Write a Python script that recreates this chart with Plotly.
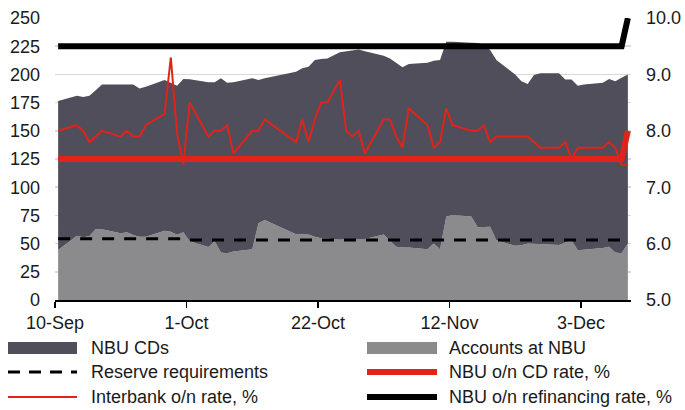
import pandas as pd
import plotly.graph_objects as go

# ---------------- data ----------------
dates = [
    "2010-09-10", "2010-09-13", "2010-09-14", "2010-09-15", "2010-09-16", "2010-09-17",
    "2010-09-20", "2010-09-21", "2010-09-22", "2010-09-23", "2010-09-24",
    "2010-09-27", "2010-09-28", "2010-09-29", "2010-09-30", "2010-10-01",
    "2010-10-04", "2010-10-05", "2010-10-06", "2010-10-07", "2010-10-08",
    "2010-10-11", "2010-10-12", "2010-10-13", "2010-10-18", "2010-10-19",
    "2010-10-20", "2010-10-21", "2010-10-22", "2010-10-23", "2010-10-25",
    "2010-10-26", "2010-10-27", "2010-10-28", "2010-10-29", "2010-11-01",
    "2010-11-02", "2010-11-03", "2010-11-04", "2010-11-05", "2010-11-08",
    "2010-11-09", "2010-11-10", "2010-11-11", "2010-11-12", "2010-11-15",
    "2010-11-16", "2010-11-17", "2010-11-18", "2010-11-19", "2010-11-22",
    "2010-11-23", "2010-11-24", "2010-11-25", "2010-11-26", "2010-11-29",
    "2010-11-30", "2010-12-01", "2010-12-02", "2010-12-03", "2010-12-06",
    "2010-12-07", "2010-12-08", "2010-12-09", "2010-12-10",
]

# accounts at NBU, UAH bn (lower, light grey area)
accounts_at_nbu = [
    44.3, 57.0, 55.6, 56.7, 62.7, 62.7,
    59.1, 60.0, 57.6, 56.1, 56.0,
    61.5, 60.6, 57.9, 60.0, 52.0,
    47.0, 52.0, 42.0, 41.4, 43.0,
    45.0, 68.0, 71.0, 58.2, 58.2,
    58.0, 56.0, 54.7, 54.5, 53.5,
    54.0, 52.5, 54.0, 54.0, 58.0,
    53.0, 47.3, 46.5, 46.5, 45.0,
    50.0, 45.0, 74.0, 75.4, 74.0,
    64.5, 65.0, 65.0, 53.0, 48.0,
    48.5, 50.0, 49.8, 49.6, 48.8,
    51.0, 53.0, 44.0, 44.6, 46.0,
    47.3, 42.0, 41.4, 50.0,
]

# top of the stacked dark area: NBU CDs + accounts at NBU, UAH bn
cds_stack_top = [
    176.5, 181.0, 180.0, 181.0, 186.0, 191.0,
    191.0, 191.0, 191.0, 187.5, 189.0,
    195.0, 192.5, 190.0, 196.0, 195.6,
    193.0, 193.0, 196.5, 192.6, 193.0,
    196.5, 195.0, 196.5, 202.4, 205.4,
    206.8, 212.8, 213.6, 214.2, 219.6,
    220.4, 221.2, 222.0, 220.5, 216.6,
    214.2, 210.4, 206.3, 209.2, 210.4,
    212.2, 212.8, 229.0, 229.0, 228.1,
    227.8, 226.0, 221.6, 212.8, 200.0,
    194.0, 191.5, 199.5, 201.0, 201.0,
    195.5, 195.5, 190.0, 191.0, 192.6,
    196.0, 194.0, 197.0, 200.0,
]

# interbank overnight rate, %
interbank_rate = [
    8.0, 8.1, 8.0, 7.8, 7.9, 8.0,
    7.9, 8.0, 7.9, 7.9, 8.1,
    8.3, 9.3, 7.95, 7.4, 8.5,
    7.9, 8.0, 8.0, 8.1, 7.6,
    8.0, 8.0, 8.2, 7.8, 8.2,
    7.8, 8.2, 8.5, 8.5, 8.9,
    8.0, 7.9, 8.0, 7.6, 8.2,
    8.2, 7.9, 7.7, 8.4, 8.1,
    7.7, 7.8, 8.4, 8.1, 8.0,
    8.0, 8.1, 7.8, 7.9, 7.9,
    7.9, 7.9, 7.8, 7.7, 7.7,
    7.8, 7.5, 7.7, 7.7, 7.7,
    7.8, 7.7, 7.4, 7.4,
]

rate_dates = ["2010-09-10", "2010-12-09", "2010-12-10"]
cd_rate = [7.5, 7.5, 8.0]
refinancing_rate = [9.5, 9.5, 10.0]

reserve_dates = ["2010-09-10", "2010-09-30", "2010-10-01", "2010-12-10"]
reserve_requirements = [54.4, 54.4, 53.2, 53.2]

tick_dates = ["2010-09-10", "2010-10-01", "2010-10-22", "2010-11-12", "2010-12-03"]
tick_labels = ["10-Sep", "1-Oct", "22-Oct", "12-Nov", "3-Dec"]
left_ticks = list(range(0, 251, 25))
right_ticks = [5, 6, 7, 8, 9, 10]

legend_labels = [
    "NBU CDs", "Accounts at NBU", "Reserve requirements",
    "NBU o/n CD rate, %", "Interbank o/n rate, %", "NBU o/n refinancing rate, %",
]

# ---------------- styling ----------------
DARK = "#4f4e5a"
GREY = "#8b8b8d"
RED = "#e2231a"
BLACK = "#000000"
TEXT = "#1a1a1a"
FONT = "Liberation Sans, Arial, sans-serif"
FS = 18

W, H = 685, 410
L, R, T, B = 55, 54, 18, 110
PW, PH = W - L - R, H - T - B


def mid(ds):
    # observations are drawn at the middle of their day
    return pd.to_datetime(ds) + pd.Timedelta(hours=12)


fig = go.Figure()

fig.add_trace(go.Scatter(
    x=mid(dates), y=accounts_at_nbu, name=legend_labels[1], mode="lines",
    line=dict(width=0, color=GREY), fill="tozeroy", fillcolor=GREY,
    showlegend=False, hoverinfo="skip"))
fig.add_trace(go.Scatter(
    x=mid(dates), y=cds_stack_top, name=legend_labels[0], mode="lines",
    line=dict(width=0, color=DARK), fill="tonexty", fillcolor=DARK,
    showlegend=False, hoverinfo="skip"))
fig.add_trace(go.Scatter(
    x=mid(reserve_dates), y=reserve_requirements, name=legend_labels[2], mode="lines",
    line=dict(width=3, color=BLACK, dash="12px,10px"), showlegend=False))
fig.add_trace(go.Scatter(
    x=mid(rate_dates), y=cd_rate, name=legend_labels[3], mode="lines", yaxis="y2",
    line=dict(width=6, color=RED), showlegend=False))
fig.add_trace(go.Scatter(
    x=mid(dates), y=interbank_rate, name=legend_labels[4], mode="lines", yaxis="y2",
    line=dict(width=2, color=RED), showlegend=False))
fig.add_trace(go.Scatter(
    x=mid(rate_dates), y=refinancing_rate, name=legend_labels[5], mode="lines", yaxis="y2",
    line=dict(width=6, color=BLACK), showlegend=False))

# ---------------- custom legend (pixel layout -> paper coords) ----------------
def px(x):
    return (x - L) / PW


def py(y):
    return (H - B - y) / PH


shapes = []
annotations = []
col_sym = [(8, 77), (367, 437)]
col_txt = [89, 447]
rows = [348, 372, 397]
items = [
    ("rect", DARK, None), ("rect", GREY, None),
    ("line", BLACK, dict(width=3, dash="12px,9px")), ("line", RED, dict(width=6)),
    ("line", RED, dict(width=2)), ("line", BLACK, dict(width=6)),
]
for i, (kind, color, st) in enumerate(items):
    c, r = i % 2, i // 2
    x0, x1 = col_sym[c]
    yc = rows[r]
    if kind == "rect":
        shapes.append(dict(type="rect", xref="paper", yref="paper",
                           x0=px(x0), x1=px(x1), y0=py(yc + 6), y1=py(yc - 6),
                           fillcolor=color, line=dict(width=0)))
    else:
        shapes.append(dict(type="line", xref="paper", yref="paper",
                           x0=px(x0), x1=px(x1), y0=py(yc), y1=py(yc),
                           line=dict(color=color, **st)))
    annotations.append(dict(xref="paper", yref="paper", x=px(col_txt[c]), y=py(yc),
                            xanchor="left", yanchor="middle", showarrow=False,
                            text=legend_labels[i],
                            font=dict(family=FONT, size=FS, color=TEXT)))

fig.update_layout(
    width=W, height=H, autosize=False,
    margin=dict(l=L, r=R, t=T, b=B, pad=0, autoexpand=False),
    paper_bgcolor="white", plot_bgcolor="white",
    font=dict(family=FONT, size=FS, color=TEXT),
    showlegend=False,
    shapes=shapes, annotations=annotations,
    xaxis=dict(
        type="date", range=["2010-09-10", "2010-12-11"],
        tickvals=pd.to_datetime(tick_dates), ticktext=tick_labels,
        ticks="outside", ticklen=6, tickwidth=1.5, tickcolor=BLACK,
        showline=True, linecolor=BLACK, linewidth=1.5,
        showgrid=False, zeroline=False, fixedrange=True, automargin=False,
        tickfont=dict(family=FONT, size=FS, color=TEXT),
    ),
    yaxis=dict(
        range=[0, 250], tickvals=left_ticks, automargin=False,
        showgrid=True, gridcolor="#d9d9d9", gridwidth=1.5,
        showline=False, zeroline=False, ticks="", ticklabelstandoff=14,
        tickfont=dict(family=FONT, size=FS, color=TEXT),
    ),
    yaxis2=dict(
        overlaying="y", side="right", range=[5, 10], tickvals=right_ticks,
        tickformat=".1f", showgrid=False, showline=False, zeroline=False,
        ticks="", ticklabelstandoff=14, automargin=False,
        tickfont=dict(family=FONT, size=FS, color=TEXT),
    ),
)

fig.write_html(
    "out.html", include_plotlyjs=True,
    config={"displayModeBar": False, "staticPlot": True},
    post_script=(
        "document.documentElement.style.margin='0';"
        "document.documentElement.style.overflow='hidden';"
        "document.body.style.margin='0';"
        "document.body.style.overflow='hidden';"
    ),
)
